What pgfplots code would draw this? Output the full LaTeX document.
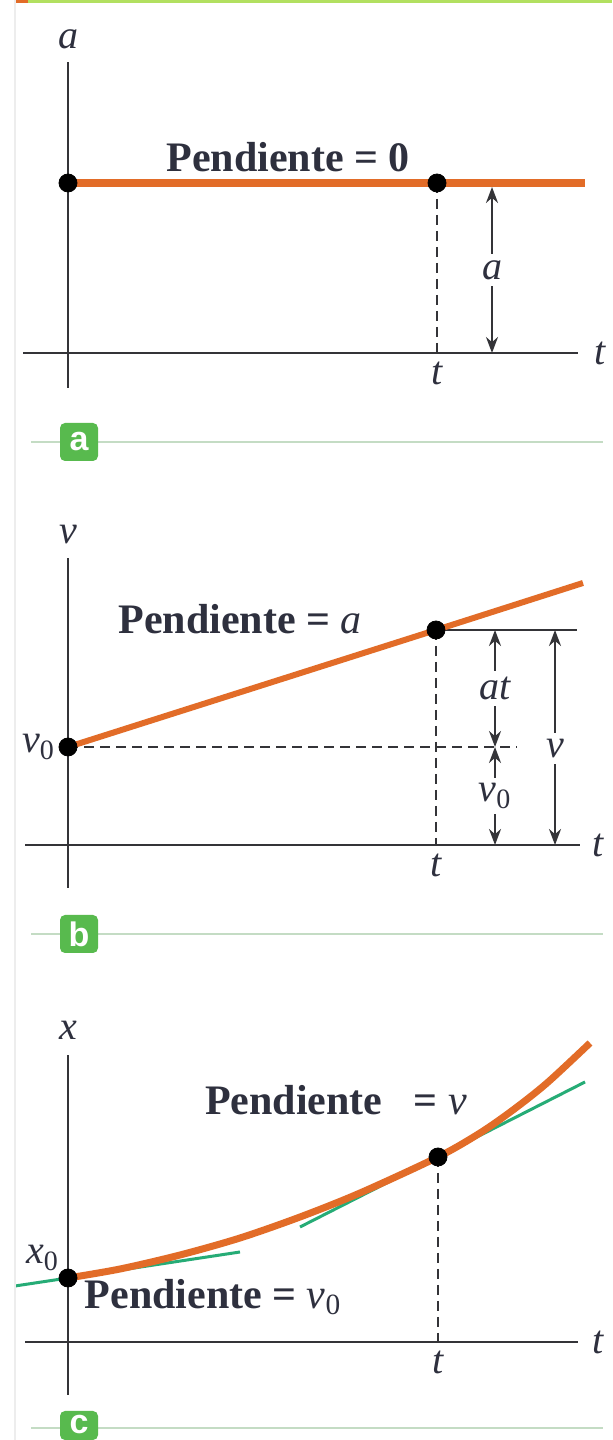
\documentclass[border=0pt]{standalone}
\usepackage{fontspec}
\setmainfont{Liberation Serif}
\newfontfamily\badgefont{Liberation Sans}
\usepackage{pgfplots}
\pgfplotsset{compat=1.18}
\usetikzlibrary{arrows.meta}

\definecolor{curve}{RGB}{226,108,40}
\definecolor{tangent}{RGB}{38,172,118}
\definecolor{axisgray}{RGB}{52,52,56}
\definecolor{ink}{RGB}{46,48,62}
\definecolor{sepline}{RGB}{196,220,196}
\definecolor{badge}{RGB}{88,186,78}
\definecolor{topbar}{RGB}{178,224,96}

% one data unit = one pixel of the 612 x 1440 sheet (0.5pt)
\pgfplotsset{
  panel/.style={x=0.5pt, y=0.5pt, anchor=south west,
    xmin=-60, xmax=540, ymin=-60, ymax=330,
    axis lines=none, ticks=none, clip=false},
}
\tikzset{
  axisline/.style={draw=axisgray, line width=1.1pt},
  guide/.style={draw=axisgray, line width=1.2pt, dash pattern=on 5pt off 3pt},
  dim/.style={draw=axisgray, line width=1pt,
    {Stealth[length=8pt,width=6pt]}-{Stealth[length=8pt,width=6pt]}},
  lbl/.style={text=ink, font=\fontsize{20}{24}\selectfont},
  slope/.style={text=ink, font=\fontsize{21}{25}\selectfont\bfseries},
  gap/.style={fill=white, inner sep=3pt},
  tagfont/.style={white, font=\badgefont\bfseries\fontsize{17}{17}\selectfont},
}

\begin{document}
\begin{tikzpicture}
\path[use as bounding box] (0,0) rectangle (306pt,720pt);
\clip (0,0) rectangle (306pt,720pt);
\fill[white] (0,0) rectangle (306pt,720pt);

% (a) constant acceleration
\begin{axis}[panel, at={(4pt,513.5pt)}]
  \draw[axisline] (-45,0) -- (510,0);
  \draw[axisline] (0,-35) -- (0,291);
  \addplot[curve, line width=4pt] coordinates {(0,170) (517,170)};
  \draw[guide] (369,170) -- (369,0);
  \draw[dim] (424,166) -- (424,0) node[midway, gap, lbl] {\textit{a}};
  \addplot[only marks, mark=*, mark size=4.5pt, black] coordinates {(0,170) (369,170)};
  \node[lbl] at (532,0) {\textit{t}};
  \node[lbl] at (369,-20) {\textit{t}};
  \node[lbl] at (0,314) {\textit{a}};
  \node[slope] at (220,196) {Pendiente = 0};
\end{axis}

% (b) velocity grows linearly
\begin{axis}[panel, at={(4pt,267.5pt)}]
  \draw[axisline] (-43,0) -- (512,0);
  \draw[axisline] (0,-43) -- (0,287);
  \draw[guide] (0,98) -- (449,98);
  \draw[guide] (368,215) -- (368,0);
  \draw[axisline] (368,215) -- (509,215);
  \addplot[curve, line width=3pt] coordinates {(0,98) (368,215) (515,262)};
  \draw[dim] (427,215) -- (427,98) node[midway, gap, lbl] {\textit{at}};
  \draw[dim] (427,98) -- (427,0) node[midway, gap, lbl] {\textit{v}\textsubscript{0}};
  \draw[dim] (487,215) -- (487,0) node[pos=0.55, gap, lbl] {\textit{v}};
  \addplot[only marks, mark=*, mark size=4.5pt, black] coordinates {(0,98) (368,215)};
  \node[lbl] at (530,0) {\textit{t}};
  \node[lbl] at (368,-20) {\textit{t}};
  \node[lbl] at (0,310) {\textit{v}};
  \node[lbl, anchor=east] at (-6,98) {\textit{v}\textsubscript{0}};
  \node[slope] at (172,226) {Pendiente = \textmd{\textit{a}}};
\end{axis}

% (c) position is a parabola
\begin{axis}[panel, at={(4pt,19pt)}]
  \draw[axisline] (-43,0) -- (510,0);
  \draw[axisline] (0,-53) -- (0,287);
  \addplot[tangent, line width=1.5pt] coordinates {(-53,56) (172,90)};
  \addplot[tangent, line width=1.5pt] coordinates {(232,115) (517,260)};
  \addplot[curve, line width=3.5pt, smooth] coordinates {
    (0,64) (52,73) (112,87) (172,104) (232,125) (292,149)
    (370,185) (412,209) (445,232) (479,259) (522,299)};
  \draw[guide] (370,185) -- (370,0);
  \addplot[only marks, mark=*, mark size=4.5pt, black] coordinates {(0,64) (370,185)};
  \node[lbl] at (530,0) {\textit{t}};
  \node[lbl] at (370,-20) {\textit{t}};
  \node[lbl] at (0,312) {\textit{x}};
  \node[lbl, anchor=east] at (-2,84) {\textit{x}\textsubscript{0}};
  \node[slope] at (268,242) {Pendiente\hspace{0.5em} = \textmd{\textit{v}}};
  \node[slope] at (145,45) {Pendiente = \textmd{\textit{v}\textsubscript{0}}};
\end{axis}

% sheet trim: top rule, left margin, panel separators with badges
\begin{scope}[x=0.5pt, y=-0.5pt, yshift=720pt]
  \fill[topbar] (28,0) rectangle (612,3);
  \fill[curve] (15,0) rectangle (28,3);
  \draw[black!7, line width=0.8pt] (15,0) -- (15,1440);
  \foreach \yy/\tag in {442/a, 934/b} {
    \draw[sepline, line width=1pt] (31,\yy) -- (603,\yy);
    \fill[badge, rounded corners=2.5pt] (60,\yy-19) rectangle (98,\yy+19);
    \node[tagfont] at (79,\yy) {\tag};
  }
  \draw[sepline, line width=1pt] (31,1428) -- (603,1428);
  \fill[badge, rounded corners=2.5pt] (60,1411) rectangle (98,1440);
  \node[tagfont] at (79,1425) {c};
\end{scope}
\end{tikzpicture}
\end{document}
